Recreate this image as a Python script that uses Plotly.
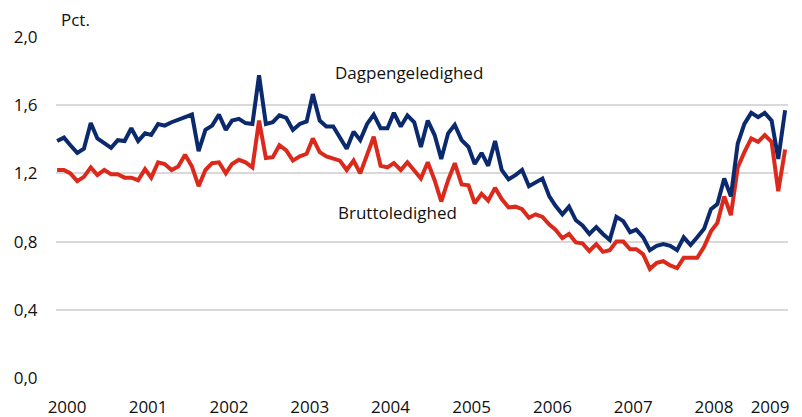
import pandas as pd
import plotly.graph_objects as go

months = pd.date_range("2000-01-01", periods=109, freq="MS")

dagpengeledighed = [
    1.39, 1.41, 1.365, 1.32, 1.345, 1.495, 1.405, 1.38, 1.35, 1.395, 1.39, 1.465,
    1.39, 1.435, 1.425, 1.49, 1.48, 1.50, 1.515, 1.53, 1.545, 1.33, 1.455, 1.48,
    1.545, 1.455, 1.51, 1.52, 1.495, 1.49, 1.775, 1.49, 1.50, 1.54, 1.525, 1.455,
    1.49, 1.505, 1.665, 1.51, 1.475, 1.475, 1.415, 1.345, 1.445, 1.395, 1.49, 1.545,
    1.465, 1.465, 1.555, 1.475, 1.54, 1.50, 1.355, 1.51, 1.425, 1.285, 1.435, 1.485,
    1.395, 1.355, 1.255, 1.32, 1.245, 1.39, 1.22, 1.165, 1.19, 1.22, 1.125, 1.15,
    1.17, 1.065, 1.01, 0.96, 1.005, 0.925, 0.895, 0.845, 0.885, 0.845, 0.81, 0.945,
    0.92, 0.855, 0.87, 0.825, 0.75, 0.775, 0.785, 0.775, 0.75, 0.825, 0.78, 0.825,
    0.875, 0.99, 1.02, 1.17, 1.065, 1.375, 1.49, 1.555, 1.53, 1.555, 1.51, 1.285,
    1.57,
]

bruttoledighed = [
    1.22, 1.22, 1.20, 1.155, 1.18, 1.235, 1.19, 1.22, 1.195, 1.195, 1.175, 1.175,
    1.16, 1.225, 1.175, 1.265, 1.255, 1.22, 1.24, 1.31, 1.24, 1.125, 1.22, 1.26,
    1.265, 1.20, 1.255, 1.28, 1.265, 1.235, 1.51, 1.29, 1.295, 1.365, 1.335, 1.275,
    1.30, 1.315, 1.405, 1.325, 1.30, 1.29, 1.275, 1.22, 1.275, 1.20, 1.305, 1.415,
    1.245, 1.235, 1.26, 1.22, 1.265, 1.22, 1.17, 1.265, 1.16, 1.035, 1.16, 1.26,
    1.135, 1.13, 1.025, 1.08, 1.04, 1.115, 1.05, 1.00, 1.005, 0.99, 0.94, 0.96,
    0.945, 0.90, 0.87, 0.82, 0.845, 0.795, 0.79, 0.745, 0.785, 0.74, 0.75, 0.80,
    0.80, 0.755, 0.755, 0.725, 0.64, 0.675, 0.685, 0.66, 0.645, 0.705, 0.705, 0.705,
    0.77, 0.86, 0.91, 1.065, 0.955, 1.235, 1.325, 1.405, 1.385, 1.425, 1.385, 1.095,
    1.34,
]

year_labels = ["2000", "2001", "2002", "2003", "2004", "2005", "2006", "2007", "2008", "2009"]
year_tick_dates = ["2000-02-15", "2001-02-15", "2002-02-15", "2003-02-15", "2004-02-15",
                   "2005-02-15", "2006-02-15", "2007-02-15", "2008-02-15", "2008-10-25"]
y_ticks = [0.0, 0.4, 0.8, 1.2, 1.6, 2.0]

BLUE = "#0b2a6e"
RED = "#db291b"
TEXT = "#111111"
FONT = "Open Sans, Noto Sans, Arial, sans-serif"

fig = go.Figure()
fig.add_trace(go.Scatter(x=months, y=bruttoledighed, mode="lines",
                         line=dict(color=RED, width=4), name="Bruttoledighed",
                         hoverinfo="skip"))
fig.add_trace(go.Scatter(x=months, y=dagpengeledighed, mode="lines",
                         line=dict(color=BLUE, width=4), name="Dagpengeledighed",
                         hoverinfo="skip"))

fig.add_annotation(text="Dagpengeledighed", x="2004-05-07", y=1.794, xref="x", yref="y",
                   showarrow=False, font=dict(size=17, color=TEXT, family=FONT),
                   xanchor="center", yanchor="middle")
fig.add_annotation(text="Bruttoledighed", x="2004-03-19", y=0.971, xref="x", yref="y",
                   showarrow=False, font=dict(size=17, color=TEXT, family=FONT),
                   xanchor="center", yanchor="middle")
fig.add_annotation(text="Pct.", x=0, y=1, xref="paper", yref="paper", xshift=3, yshift=18,
                   showarrow=False, font=dict(size=17, color=TEXT, family=FONT),
                   xanchor="left", yanchor="middle")

# the page body has an 8px margin; size the figure so it lands on the 802x417 window
fig.update_layout(
    template="none",
    width=794, height=409,
    margin=dict(l=48, r=14, t=29, b=39, autoexpand=False),
    paper_bgcolor="white", plot_bgcolor="white",
    showlegend=False,
    separators=",.",
    font=dict(family=FONT, size=17, color=TEXT),
)
fig.update_xaxes(
    type="date", range=["1999-12-27", "2009-01-14"],
    tickvals=year_tick_dates, ticktext=year_labels,
    showgrid=False, zeroline=False, showline=False, automargin=False,
    ticks="outside", ticklen=14, tickcolor="rgba(0,0,0,0)",
    tickfont=dict(size=17, family=FONT, color=TEXT),
)
fig.update_yaxes(
    range=[0, 2.0], tickvals=y_ticks, tickformat=".1f",
    showgrid=True, gridcolor="#d9d9d9", gridwidth=2,
    zeroline=False, showline=False, automargin=False,
    ticks="outside", ticklen=14, tickcolor="rgba(0,0,0,0)",
    tickfont=dict(size=17, family=FONT, color=TEXT),
)

fig.write_html("out.html")
